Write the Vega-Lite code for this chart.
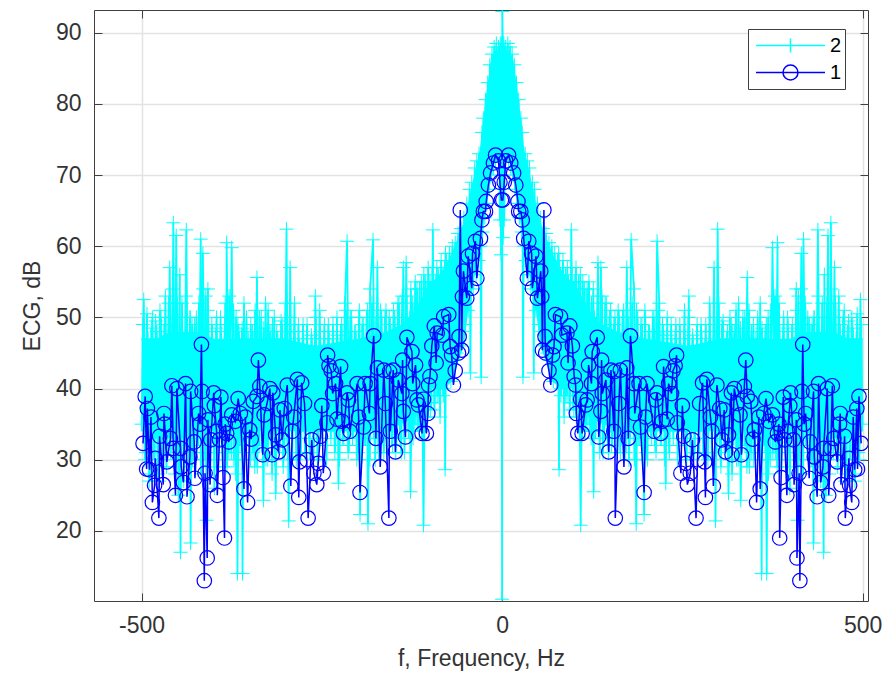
{"$schema":"https://vega.github.io/schema/vega-lite/v6.json","width":774,"height":591,"autosize":"none","padding":{"left":94,"top":10,"right":28,"bottom":72},"background":"white",
"config":{"view":{"stroke":null},"font":"Liberation Sans"},
"datasets":{"c":[
{"f":-500,"lo":34,"hi":47},{"f":-480,"lo":33,"hi":47},{"f":-460,"lo":33,"hi":48},{"f":-440,"lo":33,"hi":48},{"f":-420,"lo":34,"hi":48},{"f":-400,"lo":34,"hi":47},{"f":-340,"lo":34,"hi":47},{"f":-300,"lo":34,"hi":47},{"f":-260,"lo":34,"hi":46},{"f":-200,"lo":34,"hi":47},{"f":-160,"lo":34,"hi":48},{"f":-140,"lo":35,"hi":49},{"f":-120,"lo":36,"hi":51},{"f":-100,"lo":40,"hi":55},{"f":-90,"lo":40,"hi":55.5},{"f":-80,"lo":40,"hi":57},{"f":-70,"lo":41,"hi":59},{"f":-60,"lo":44,"hi":61.5},{"f":-53,"lo":46,"hi":63.5},{"f":-47,"lo":51,"hi":66},{"f":-43,"lo":53,"hi":68},{"f":-31,"lo":60,"hi":73.5},{"f":-23,"lo":65,"hi":80.6},{"f":-16,"lo":69,"hi":86},{"f":-10,"lo":72,"hi":87.5},{"f":-5,"lo":72,"hi":87.5},{"f":-2,"lo":66,"hi":87.5},{"f":2,"lo":66,"hi":87.5},{"f":5,"lo":72,"hi":87.5},{"f":10,"lo":72,"hi":87.5},{"f":16,"lo":69,"hi":86},{"f":23,"lo":65,"hi":80.6},{"f":31,"lo":60,"hi":73.5},{"f":43,"lo":53,"hi":68},{"f":47,"lo":51,"hi":66},{"f":53,"lo":46,"hi":63.5},{"f":60,"lo":44,"hi":61.5},{"f":70,"lo":41,"hi":59},{"f":80,"lo":40,"hi":57},{"f":90,"lo":40,"hi":55.5},{"f":100,"lo":40,"hi":55},{"f":120,"lo":36,"hi":51},{"f":140,"lo":35,"hi":49},{"f":160,"lo":34,"hi":48},{"f":200,"lo":34,"hi":47},{"f":260,"lo":34,"hi":46},{"f":300,"lo":34,"hi":47},{"f":340,"lo":34,"hi":47},{"f":400,"lo":34,"hi":47},{"f":420,"lo":34,"hi":48},{"f":440,"lo":33,"hi":48},{"f":460,"lo":33,"hi":48},{"f":480,"lo":33,"hi":47},{"f":500,"lo":34,"hi":47}
],"d":[
{"f":-498.5,"v":49},{"f":-495.5,"v":30},{"f":-492.5,"v":50.5},{"f":-489.5,"v":27},{"f":-486.5,"v":48.5},{"f":-483.5,"v":31},{"f":-480.5,"v":49.5},{"f":-477.5,"v":28},{"f":-474.5,"v":51},{"f":-471.5,"v":30},{"f":-468.5,"v":49},{"f":-465.5,"v":29},{"f":-462.5,"v":52},{"f":-459.5,"v":31},{"f":-456.5,"v":54},{"f":-453.5,"v":28},{"f":-450.5,"v":52},{"f":-447.5,"v":30},{"f":-444.5,"v":50},{"f":-441.5,"v":27},{"f":-438.5,"v":53},{"f":-435.5,"v":32},{"f":-432.5,"v":50},{"f":-429.5,"v":30},{"f":-426.5,"v":49},{"f":-423.5,"v":31},{"f":-420.5,"v":52},{"f":-417.5,"v":28},{"f":-414.5,"v":54},{"f":-411.5,"v":32},{"f":-408.5,"v":51},{"f":-405.5,"v":29},{"f":-402.5,"v":49},{"f":-399.5,"v":32},{"f":-396.5,"v":48.5},{"f":-393.5,"v":30},{"f":-390.5,"v":50},{"f":-387.5,"v":33},{"f":-384.5,"v":49},{"f":-381.5,"v":29},{"f":-378.5,"v":53},{"f":-375.5,"v":31},{"f":-372.5,"v":51},{"f":-369.5,"v":28},{"f":-366.5,"v":49},{"f":-363.5,"v":32},{"f":-360.5,"v":48.5},{"f":-357.5,"v":30},{"f":-354.5,"v":50},{"f":-351.5,"v":33},{"f":-348.5,"v":49},{"f":-345.5,"v":31},{"f":-342.5,"v":51},{"f":-339.5,"v":29},{"f":-336.5,"v":50},{"f":-333.5,"v":32},{"f":-330.5,"v":48.5},{"f":-327.5,"v":30},{"f":-324.5,"v":51},{"f":-321.5,"v":33},{"f":-318.5,"v":49},{"f":-315.5,"v":30},{"f":-312.5,"v":48},{"f":-309.5,"v":32},{"f":-306.5,"v":49.5},{"f":-303.5,"v":29},{"f":-300.5,"v":52},{"f":-297.5,"v":31},{"f":-294.5,"v":50},{"f":-291.5,"v":33},{"f":-288.5,"v":48},{"f":-285.5,"v":30},{"f":-282.5,"v":49},{"f":-279.5,"v":33},{"f":-276.5,"v":48},{"f":-273.5,"v":31},{"f":-270.5,"v":49},{"f":-267.5,"v":33},{"f":-264.5,"v":47.5},{"f":-261.5,"v":30},{"f":-258.5,"v":50},{"f":-255.5,"v":32},{"f":-252.5,"v":48},{"f":-249.5,"v":33},{"f":-246.5,"v":49},{"f":-243.5,"v":30},{"f":-240.5,"v":48},{"f":-237.5,"v":33},{"f":-234.5,"v":49},{"f":-231.5,"v":32},{"f":-228.5,"v":47.5},{"f":-225.5,"v":30},{"f":-222.5,"v":49},{"f":-219.5,"v":33},{"f":-216.5,"v":51},{"f":-213.5,"v":31},{"f":-210.5,"v":50},{"f":-207.5,"v":33},{"f":-204.5,"v":48},{"f":-201.5,"v":30},{"f":-198.5,"v":50},{"f":-195.5,"v":32},{"f":-192.5,"v":49},{"f":-189.5,"v":33},{"f":-186.5,"v":51},{"f":-183.5,"v":30},{"f":-180.5,"v":52},{"f":-177.5,"v":33},{"f":-174.5,"v":50},{"f":-171.5,"v":31},{"f":-168.5,"v":51},{"f":-165.5,"v":33},{"f":-162.5,"v":50},{"f":-159.5,"v":31},{"f":-156.5,"v":50},{"f":-153.5,"v":33},{"f":-150.5,"v":51},{"f":-147.5,"v":31},{"f":-144.5,"v":52},{"f":-141.5,"v":33},{"f":-138.5,"v":53},{"f":-135.5,"v":31},{"f":-132.5,"v":53},{"f":-129.5,"v":34},{"f":-126.5,"v":54},{"f":-123.5,"v":33},{"f":-120.5,"v":55},{"f":-117.5,"v":35},{"f":-114.5,"v":54},{"f":-111.5,"v":34},{"f":-108.5,"v":56},{"f":-105.5,"v":36},{"f":-102.5,"v":57},{"f":-99.5,"v":37},{"f":-96.5,"v":57},{"f":-93.5,"v":38},{"f":-90.5,"v":57},{"f":-87.5,"v":39},{"f":-84.5,"v":58},{"f":-81.5,"v":39},{"f":-78.5,"v":59},{"f":-75.5,"v":41},
{"f":75.5,"v":41},{"f":78.5,"v":59},{"f":81.5,"v":39},{"f":84.5,"v":58},{"f":87.5,"v":39},{"f":90.5,"v":57},{"f":93.5,"v":38},{"f":96.5,"v":57},{"f":99.5,"v":37},{"f":102.5,"v":57},{"f":105.5,"v":36},{"f":108.5,"v":56},{"f":111.5,"v":34},{"f":114.5,"v":54},{"f":117.5,"v":35},{"f":120.5,"v":55},{"f":123.5,"v":33},{"f":126.5,"v":54},{"f":129.5,"v":34},{"f":132.5,"v":53},{"f":135.5,"v":31},{"f":138.5,"v":53},{"f":141.5,"v":33},{"f":144.5,"v":52},{"f":147.5,"v":31},{"f":150.5,"v":51},{"f":153.5,"v":33},{"f":156.5,"v":50},{"f":159.5,"v":31},{"f":162.5,"v":50},{"f":165.5,"v":33},{"f":168.5,"v":51},{"f":171.5,"v":31},{"f":174.5,"v":50},{"f":177.5,"v":33},{"f":180.5,"v":52},{"f":183.5,"v":30},{"f":186.5,"v":51},{"f":189.5,"v":33},{"f":192.5,"v":49},{"f":195.5,"v":32},{"f":198.5,"v":50},{"f":201.5,"v":30},{"f":204.5,"v":48},{"f":207.5,"v":33},{"f":210.5,"v":50},{"f":213.5,"v":31},{"f":216.5,"v":51},{"f":219.5,"v":33},{"f":222.5,"v":49},{"f":225.5,"v":30},{"f":228.5,"v":47.5},{"f":231.5,"v":32},{"f":234.5,"v":49},{"f":237.5,"v":33},{"f":240.5,"v":48},{"f":243.5,"v":30},{"f":246.5,"v":49},{"f":249.5,"v":33},{"f":252.5,"v":48},{"f":255.5,"v":32},{"f":258.5,"v":50},{"f":261.5,"v":30},{"f":264.5,"v":47.5},{"f":267.5,"v":33},{"f":270.5,"v":49},{"f":273.5,"v":31},{"f":276.5,"v":48},{"f":279.5,"v":33},{"f":282.5,"v":49},{"f":285.5,"v":30},{"f":288.5,"v":48},{"f":291.5,"v":33},{"f":294.5,"v":50},{"f":297.5,"v":31},{"f":300.5,"v":52},{"f":303.5,"v":29},{"f":306.5,"v":49.5},{"f":309.5,"v":32},{"f":312.5,"v":48},{"f":315.5,"v":30},{"f":318.5,"v":49},{"f":321.5,"v":33},{"f":324.5,"v":51},{"f":327.5,"v":30},{"f":330.5,"v":48.5},{"f":333.5,"v":32},{"f":336.5,"v":50},{"f":339.5,"v":29},{"f":342.5,"v":51},{"f":345.5,"v":31},{"f":348.5,"v":49},{"f":351.5,"v":33},{"f":354.5,"v":50},{"f":357.5,"v":30},{"f":360.5,"v":48.5},{"f":363.5,"v":32},{"f":366.5,"v":49},{"f":369.5,"v":28},{"f":372.5,"v":51},{"f":375.5,"v":31},{"f":378.5,"v":53},{"f":381.5,"v":29},{"f":384.5,"v":49},{"f":387.5,"v":33},{"f":390.5,"v":50},{"f":393.5,"v":30},{"f":396.5,"v":48.5},{"f":399.5,"v":32},{"f":402.5,"v":49},{"f":405.5,"v":29},{"f":408.5,"v":51},{"f":411.5,"v":32},{"f":414.5,"v":54},{"f":417.5,"v":28},{"f":420.5,"v":52},{"f":423.5,"v":31},{"f":426.5,"v":49},{"f":429.5,"v":30},{"f":432.5,"v":50},{"f":435.5,"v":32},{"f":438.5,"v":53},{"f":441.5,"v":27},{"f":444.5,"v":50},{"f":447.5,"v":30},{"f":450.5,"v":52},{"f":453.5,"v":28},{"f":456.5,"v":54},{"f":459.5,"v":31},{"f":462.5,"v":52},{"f":465.5,"v":29},{"f":468.5,"v":49},{"f":471.5,"v":30},{"f":474.5,"v":51},{"f":477.5,"v":28},{"f":480.5,"v":49.5},{"f":483.5,"v":31},{"f":486.5,"v":48.5},{"f":489.5,"v":27},{"f":492.5,"v":50.5},{"f":495.5,"v":30},{"f":498.5,"v":49}
],"a":[
{"f":-500,"v":35},{"f":-497,"v":52.5},{"f":-494,"v":31},{"f":-491,"v":47},{"f":-488,"v":28},{"f":-485,"v":50},{"f":-482,"v":30},{"f":-479,"v":48},{"f":-476,"v":27},{"f":-473,"v":50},{"f":-470,"v":29},{"f":-467,"v":53},{"f":-464,"v":31},{"f":-461,"v":57},{"f":-458,"v":34},{"f":-456,"v":63.3},{"f":-454,"v":30},{"f":-452,"v":61.5},{"f":-449,"v":25},{"f":-447,"v":56},{"f":-446,"v":17},{"f":-444,"v":52},{"f":-441,"v":31},{"f":-438,"v":62.3},{"f":-435,"v":29},{"f":-433,"v":50},{"f":-432,"v":18.3},{"f":-430,"v":49},{"f":-427,"v":31},{"f":-424,"v":50},{"f":-421,"v":33},{"f":-418,"v":61},{"f":-417,"v":32},{"f":-415,"v":59},{"f":-412,"v":30},{"f":-411,"v":53},{"f":-410,"v":21.5},{"f":-408,"v":54},{"f":-405,"v":31},{"f":-402,"v":48},{"f":-399,"v":26},{"f":-396,"v":50},{"f":-393,"v":32},{"f":-390,"v":48},{"f":-387,"v":29},{"f":-384,"v":52},{"f":-383,"v":31},{"f":-382,"v":60.5},{"f":-379,"v":31},{"f":-375,"v":59.8},{"f":-372,"v":30},{"f":-369,"v":50},{"f":-367,"v":14},{"f":-365,"v":48},{"f":-362,"v":33},{"f":-361,"v":47},{"f":-360,"v":14},{"f":-358,"v":52},{"f":-355,"v":31},{"f":-352,"v":47},{"f":-349,"v":30},{"f":-346,"v":48},{"f":-343,"v":29},{"f":-340,"v":55.6},{"f":-337,"v":32},{"f":-334,"v":50},{"f":-331,"v":24.3},{"f":-328,"v":52},{"f":-325,"v":30},{"f":-322,"v":48},{"f":-319,"v":28},{"f":-316,"v":50},{"f":-314,"v":25.3},{"f":-311,"v":47},{"f":-308,"v":32},{"f":-305,"v":49},{"f":-302,"v":31},{"f":-299,"v":62.4},{"f":-296,"v":21.4},{"f":-294,"v":57},{"f":-291,"v":30},{"f":-288,"v":52},{"f":-285,"v":33},{"f":-282,"v":47},{"f":-279,"v":31},{"f":-276,"v":49},{"f":-273,"v":34},{"f":-270,"v":46},{"f":-267,"v":31},{"f":-264,"v":47},{"f":-261,"v":33},{"f":-259,"v":53},{"f":-256,"v":30},{"f":-253,"v":51},{"f":-250,"v":34},{"f":-247,"v":47},{"f":-244,"v":32},{"f":-241,"v":49},{"f":-238,"v":34},{"f":-235,"v":47},{"f":-232,"v":31},{"f":-229,"v":50},{"f":-227,"v":26.7},{"f":-224,"v":48},{"f":-221,"v":33},{"f":-218,"v":52},{"f":-215,"v":60.7},{"f":-212,"v":32},{"f":-209,"v":50},{"f":-206,"v":34},{"f":-203,"v":48},{"f":-200,"v":31},{"f":-198,"v":51},{"f":-197,"v":22.3},{"f":-194,"v":49},{"f":-191,"v":33},{"f":-188,"v":50},{"f":-186,"v":21},{"f":-183,"v":54},{"f":-179,"v":60.9},{"f":-176,"v":30},{"f":-173,"v":57},{"f":-170,"v":33},{"f":-167,"v":50},{"f":-164,"v":31},{"f":-161,"v":51},{"f":-158,"v":34},{"f":-155,"v":49},{"f":-152,"v":32},{"f":-149,"v":50},{"f":-146,"v":33},{"f":-143,"v":52},{"f":-140,"v":31},{"f":-137,"v":57},{"f":-135,"v":33},{"f":-133,"v":57.7},{"f":-130,"v":34},{"f":-128,"v":50},{"f":-127,"v":25.5},{"f":-124,"v":52},{"f":-121,"v":35},{"f":-118,"v":54},{"f":-115,"v":34},{"f":-112,"v":55},{"f":-109,"v":20.8},{"f":-106,"v":55},{"f":-103,"v":36},{"f":-100,"v":55},{"f":-98,"v":38},{"f":-96,"v":62.3},{"f":-94,"v":37},{"f":-92,"v":55},{"f":-90,"v":39},{"f":-88,"v":56},{"f":-86,"v":36},{"f":-84,"v":57},{"f":-82,"v":40},{"f":-80,"v":57},{"f":-79,"v":28.6},{"f":-77,"v":58},{"f":-75,"v":42},{"f":-73,"v":59},{"f":-71,"v":41},{"f":-69,"v":60},{"f":-67,"v":44},{"f":-65,"v":60.5},{"f":-63,"v":45},{"f":-61,"v":61.8},{"f":-59,"v":46},{"f":-57,"v":62.5},{"f":-55,"v":48},{"f":-53,"v":64},{"f":-51,"v":49},{"f":-49,"v":66},{"f":-47,"v":51},{"f":-45,"v":68},{"f":-44,"v":42.2},{"f":-42,"v":69},{"f":-40,"v":54},{"f":-38,"v":71},{"f":-36,"v":56},{"f":-35,"v":72},{"f":-33,"v":58},{"f":-32,"v":73},{"f":-30,"v":60},{"f":-29,"v":41.6},{"f":-28,"v":76},{"f":-27,"v":62},{"f":-26,"v":78},{"f":-24,"v":64},{"f":-23,"v":80.6},{"f":-21,"v":66},{"f":-20,"v":83},{"f":-18,"v":68},{"f":-17,"v":85.5},{"f":-15,"v":70},{"f":-14,"v":87},{"f":-12,"v":71},{"f":-11,"v":88},{"f":-9,"v":72},{"f":-8,"v":88.5},{"f":-6,"v":74},{"f":-5,"v":88},{"f":-3,"v":63.7},{"f":-2.5,"v":88.5},{"f":-1.5,"v":58.8},{"f":-1,"v":88.5},{"f":0,"v":10.4},{"f":0.3,"v":93},{"f":1,"v":88.5},{"f":1.5,"v":61.2},{"f":2.5,"v":88.5},{"f":3,"v":63.7},{"f":5,"v":88},{"f":6,"v":74},{"f":8,"v":88.5},{"f":9,"v":72},{"f":11,"v":88},{"f":12,"v":71},{"f":14,"v":87},{"f":15,"v":70},{"f":17,"v":85.5},{"f":18,"v":68},{"f":20,"v":83},{"f":21,"v":66},{"f":23,"v":80.6},{"f":24,"v":64},{"f":26,"v":78},{"f":27,"v":62},{"f":28,"v":76},{"f":29,"v":41.6},{"f":30,"v":60},{"f":32,"v":73},{"f":33,"v":58},{"f":35,"v":72},{"f":36,"v":56},{"f":38,"v":71},{"f":40,"v":54},{"f":42,"v":69},{"f":44,"v":42.2},{"f":45,"v":68},{"f":47,"v":51},{"f":49,"v":66},{"f":51,"v":49},{"f":53,"v":64},{"f":55,"v":48},{"f":57,"v":62.5},{"f":59,"v":46},{"f":61,"v":61.8},{"f":63,"v":45},{"f":65,"v":60.5},{"f":67,"v":44},{"f":69,"v":60},{"f":71,"v":41},{"f":73,"v":59},{"f":75,"v":42},{"f":77,"v":58},{"f":79,"v":28.6},{"f":80,"v":57},{"f":82,"v":40},{"f":84,"v":57},{"f":86,"v":36},{"f":88,"v":56},{"f":90,"v":39},{"f":92,"v":55},{"f":94,"v":37},{"f":96,"v":62.3},{"f":98,"v":38},{"f":100,"v":55},{"f":103,"v":36},{"f":106,"v":55},{"f":109,"v":20.8},{"f":112,"v":55},{"f":115,"v":34},{"f":118,"v":54},{"f":121,"v":35},{"f":124,"v":52},{"f":127,"v":25.5},{"f":128,"v":50},{"f":130,"v":34},{"f":133,"v":57.7},{"f":135,"v":33},{"f":137,"v":57},{"f":140,"v":31},{"f":143,"v":52},{"f":146,"v":33},{"f":149,"v":50},{"f":152,"v":32},{"f":155,"v":49},{"f":158,"v":34},{"f":161,"v":51},{"f":164,"v":31},{"f":167,"v":50},{"f":170,"v":33},{"f":173,"v":57},{"f":176,"v":30},{"f":179,"v":60.9},{"f":183,"v":54},{"f":186,"v":21},{"f":188,"v":50},{"f":191,"v":33},{"f":194,"v":49},{"f":197,"v":22.3},{"f":198,"v":51},{"f":200,"v":31},{"f":203,"v":48},{"f":206,"v":34},{"f":209,"v":50},{"f":212,"v":32},{"f":215,"v":60.7},{"f":218,"v":52},{"f":221,"v":33},{"f":224,"v":48},{"f":227,"v":26.7},{"f":229,"v":50},{"f":232,"v":31},{"f":235,"v":47},{"f":238,"v":34},{"f":241,"v":49},{"f":244,"v":32},{"f":247,"v":47},{"f":250,"v":34},{"f":253,"v":51},{"f":256,"v":30},{"f":259,"v":53},{"f":261,"v":33},{"f":264,"v":47},{"f":267,"v":31},{"f":270,"v":46},{"f":273,"v":34},{"f":276,"v":49},{"f":279,"v":31},{"f":282,"v":47},{"f":285,"v":33},{"f":288,"v":52},{"f":291,"v":30},{"f":294,"v":57},{"f":296,"v":21.4},{"f":299,"v":62.4},{"f":302,"v":31},{"f":305,"v":49},{"f":308,"v":32},{"f":311,"v":47},{"f":314,"v":25.3},{"f":316,"v":50},{"f":319,"v":28},{"f":322,"v":48},{"f":325,"v":30},{"f":328,"v":52},{"f":331,"v":24.3},{"f":334,"v":50},{"f":337,"v":32},{"f":340,"v":55.6},{"f":343,"v":29},{"f":346,"v":48},{"f":349,"v":30},{"f":352,"v":47},{"f":355,"v":31},{"f":358,"v":52},{"f":360,"v":14},{"f":361,"v":47},{"f":362,"v":33},{"f":365,"v":48},{"f":367,"v":14},{"f":369,"v":50},{"f":372,"v":30},{"f":375,"v":59.8},{"f":379,"v":31},{"f":382,"v":60.5},{"f":383,"v":31},{"f":384,"v":52},{"f":387,"v":29},{"f":390,"v":48},{"f":393,"v":32},{"f":396,"v":50},{"f":399,"v":26},{"f":402,"v":48},{"f":405,"v":31},{"f":408,"v":54},{"f":410,"v":21.5},{"f":411,"v":53},{"f":412,"v":30},{"f":415,"v":59},{"f":417,"v":32},{"f":418,"v":61},{"f":421,"v":33},{"f":424,"v":50},{"f":427,"v":31},{"f":430,"v":49},{"f":432,"v":18.3},{"f":433,"v":50},{"f":435,"v":29},{"f":438,"v":62.3},{"f":441,"v":31},{"f":444,"v":52},{"f":446,"v":17},{"f":447,"v":56},{"f":449,"v":25},{"f":452,"v":61.5},{"f":454,"v":30},{"f":456,"v":63.3},{"f":458,"v":34},{"f":461,"v":57},{"f":464,"v":31},{"f":467,"v":53},{"f":470,"v":29},{"f":473,"v":50},{"f":476,"v":27},{"f":479,"v":48},{"f":482,"v":30},{"f":485,"v":50},{"f":488,"v":28},{"f":491,"v":47},{"f":494,"v":31},{"f":497,"v":52.5},{"f":500,"v":35}
],"b":[
{"f":-498,"v":32.3},{"f":-495,"v":38.9},{"f":-493,"v":28.7},{"f":-492,"v":37.2},{"f":-489,"v":28.6},{"f":-487,"v":36},{"f":-485,"v":24},{"f":-482,"v":26.4},{"f":-481,"v":30.2},{"f":-476,"v":21.8},{"f":-475,"v":33.3},{"f":-470,"v":26.5},{"f":-469,"v":36.5},{"f":-468,"v":35},{"f":-465,"v":29.7},{"f":-460,"v":33},{"f":-458,"v":40.4},{"f":-456,"v":31.6},{"f":-453,"v":25},{"f":-451,"v":40},{"f":-446,"v":31.6},{"f":-445,"v":29},{"f":-442,"v":26.8},{"f":-439,"v":40.7},{"f":-437,"v":24.8},{"f":-433,"v":30.4},{"f":-432,"v":39.6},{"f":-427,"v":32.5},{"f":-426,"v":27.4},{"f":-421,"v":36.5},{"f":-419,"v":35},{"f":-417,"v":46.2},{"f":-416,"v":39.6},{"f":-413,"v":13},{"f":-412,"v":28.1},{"f":-409,"v":16.2},{"f":-408,"v":35.6},{"f":-405,"v":26.5},{"f":-404,"v":32.8},{"f":-400,"v":39.4},{"f":-399,"v":37.6},{"f":-396,"v":34},{"f":-395,"v":25},{"f":-392,"v":32.8},{"f":-390,"v":38.8},{"f":-387,"v":27.5},{"f":-385,"v":19},{"f":-384,"v":35},{"f":-382,"v":33.7},{"f":-379,"v":32.5},{"f":-375,"v":36.3},{"f":-370,"v":35.4},{"f":-366,"v":38.6},{"f":-363,"v":36.5},{"f":-358,"v":25.9},{"f":-356,"v":36},{"f":-353,"v":24},{"f":-350,"v":34.2},{"f":-348,"v":32.9},{"f":-345,"v":38.2},{"f":-340,"v":38.9},{"f":-338,"v":44},{"f":-336,"v":40.3},{"f":-332,"v":30.7},{"f":-330,"v":36.3},{"f":-326,"v":37.9},{"f":-322,"v":40},{"f":-319,"v":30.7},{"f":-318,"v":39.4},{"f":-314,"v":33.5},{"f":-310,"v":31.1},{"f":-308,"v":37},{"f":-305,"v":32.8},{"f":-302,"v":37.2},{"f":-298,"v":40.5},{"f":-293,"v":26.3},{"f":-291,"v":34},{"f":-289,"v":36},{"f":-284,"v":41.3},{"f":-282,"v":24.7},{"f":-281,"v":29.7},{"f":-278,"v":40.8},{"f":-274,"v":37.9},{"f":-271,"v":30},{"f":-269,"v":21.8},{"f":-264,"v":32.8},{"f":-261,"v":28.1},{"f":-257,"v":26.5},{"f":-255,"v":29.5},{"f":-252,"v":33.3},{"f":-250,"v":37.6},{"f":-248,"v":28.1},{"f":-243,"v":35.2},{"f":-242,"v":44.7},{"f":-240,"v":43.2},{"f":-237,"v":42.5},{"f":-235,"v":39.3},{"f":-231,"v":40.7},{"f":-229,"v":35.7},{"f":-224,"v":43.1},{"f":-222,"v":35.4},{"f":-220,"v":33.7},{"f":-215,"v":39.4},{"f":-213,"v":38.4},{"f":-211,"v":34},{"f":-201,"v":40.7},{"f":-199,"v":36},{"f":-197,"v":25.4},{"f":-192,"v":34.6},{"f":-190,"v":40.7},{"f":-184,"v":36.5},{"f":-183,"v":40.7},{"f":-178,"v":47.4},{"f":-175,"v":33},{"f":-173,"v":42.9},{"f":-169,"v":29},{"f":-164,"v":42.6},{"f":-162,"v":37.9},{"f":-157,"v":21.8},{"f":-156,"v":42.4},{"f":-155,"v":34},{"f":-151,"v":42.6},{"f":-148,"v":31.1},{"f":-144,"v":41.2},{"f":-139,"v":39.3},{"f":-138,"v":44},{"f":-137,"v":36.8},{"f":-134,"v":33.2},{"f":-132,"v":47.2},{"f":-125,"v":45.2},{"f":-124,"v":40.7},{"f":-120,"v":43.3},{"f":-118,"v":38.4},{"f":-116,"v":37.7},{"f":-111,"v":33.7},{"f":-109,"v":38.5},{"f":-105,"v":33.7},{"f":-103,"v":36.5},{"f":-102,"v":40.5},{"f":-100,"v":41.7},{"f":-97.5,"v":46},{"f":-94,"v":48.8},{"f":-91.5,"v":43.6},{"f":-90,"v":47.8},{"f":-83,"v":47.5},{"f":-81,"v":50.1},{"f":-74,"v":50.4},{"f":-72,"v":45.9},{"f":-70,"v":44.7},{"f":-67.5,"v":40.5},{"f":-65,"v":42.5},{"f":-60.5,"v":45},{"f":-59.6,"v":47.3},{"f":-58,"v":65.1},{"f":-56,"v":45.4},{"f":-55,"v":52.9},{"f":-53.6,"v":56.5},{"f":-49,"v":52.7},{"f":-47,"v":58.6},{"f":-42,"v":54.1},{"f":-41,"v":59},{"f":-37,"v":60.7},{"f":-35,"v":55.5},{"f":-30,"v":61.1},{"f":-28,"v":63.7},{"f":-26,"v":64.9},{"f":-23,"v":64.9},{"f":-22,"v":66.3},{"f":-19,"v":68.6},{"f":-16,"v":70.3},{"f":-12,"v":71.7},{"f":-9,"v":72.8},{"f":-5,"v":72},{"f":-3,"v":69},{"f":-1,"v":66.5},{"f":1,"v":66.5},{"f":3,"v":69},{"f":5,"v":72},{"f":9,"v":72.8},{"f":12,"v":71.7},{"f":16,"v":70.3},{"f":19,"v":68.6},{"f":22,"v":66.3},{"f":23,"v":64.9},{"f":26,"v":64.9},{"f":28,"v":63.7},{"f":30,"v":61.1},{"f":35,"v":55.5},{"f":37,"v":60.7},{"f":41,"v":59},{"f":42,"v":54.1},{"f":47,"v":58.6},{"f":49,"v":52.7},{"f":53.6,"v":56.5},{"f":55,"v":52.9},{"f":56,"v":45.4},{"f":58,"v":65.1},{"f":59.6,"v":47.3},{"f":60.5,"v":45},{"f":65,"v":42.5},{"f":67.5,"v":40.5},{"f":70,"v":44.7},{"f":72,"v":45.9},{"f":74,"v":50.4},{"f":81,"v":50.1},{"f":83,"v":47.5},{"f":90,"v":47.8},{"f":91.5,"v":43.6},{"f":94,"v":48.8},{"f":97.5,"v":46},{"f":100,"v":41.7},{"f":102,"v":40.5},{"f":103,"v":36.5},{"f":105,"v":33.7},{"f":109,"v":38.5},{"f":111,"v":33.7},{"f":116,"v":37.7},{"f":118,"v":38.4},{"f":120,"v":43.3},{"f":124,"v":40.7},{"f":125,"v":45.2},{"f":132,"v":47.2},{"f":134,"v":33.2},{"f":137,"v":36.8},{"f":138,"v":44},{"f":139,"v":39.3},{"f":144,"v":41.2},{"f":148,"v":31.1},{"f":151,"v":42.6},{"f":155,"v":34},{"f":156,"v":42.4},{"f":157,"v":21.8},{"f":162,"v":37.9},{"f":164,"v":42.6},{"f":169,"v":29},{"f":173,"v":42.9},{"f":175,"v":33},{"f":178,"v":47.4},{"f":183,"v":40.7},{"f":184,"v":36.5},{"f":190,"v":40.7},{"f":192,"v":34.6},{"f":197,"v":25.4},{"f":199,"v":36},{"f":201,"v":40.7},{"f":211,"v":34},{"f":213,"v":38.4},{"f":215,"v":39.4},{"f":220,"v":33.7},{"f":222,"v":35.4},{"f":224,"v":43.1},{"f":229,"v":35.7},{"f":231,"v":40.7},{"f":235,"v":39.3},{"f":237,"v":42.5},{"f":240,"v":43.2},{"f":242,"v":44.7},{"f":243,"v":35.2},{"f":248,"v":28.1},{"f":250,"v":37.6},{"f":252,"v":33.3},{"f":255,"v":29.5},{"f":257,"v":26.5},{"f":261,"v":28.1},{"f":264,"v":32.8},{"f":269,"v":21.8},{"f":271,"v":30},{"f":274,"v":37.9},{"f":278,"v":40.8},{"f":281,"v":29.7},{"f":282,"v":24.7},{"f":284,"v":41.3},{"f":289,"v":36},{"f":291,"v":34},{"f":293,"v":26.3},{"f":298,"v":40.5},{"f":302,"v":37.2},{"f":305,"v":32.8},{"f":308,"v":37},{"f":310,"v":31.1},{"f":314,"v":33.5},{"f":318,"v":39.4},{"f":319,"v":30.7},{"f":322,"v":40},{"f":326,"v":37.9},{"f":330,"v":36.3},{"f":332,"v":30.7},{"f":336,"v":40.3},{"f":338,"v":44},{"f":340,"v":38.9},{"f":345,"v":38.2},{"f":348,"v":32.9},{"f":350,"v":34.2},{"f":353,"v":24},{"f":356,"v":36},{"f":358,"v":25.9},{"f":363,"v":36.5},{"f":366,"v":38.6},{"f":370,"v":35.4},{"f":375,"v":36.3},{"f":379,"v":32.5},{"f":382,"v":33.7},{"f":384,"v":35},{"f":385,"v":19},{"f":387,"v":27.5},{"f":390,"v":38.8},{"f":392,"v":32.8},{"f":395,"v":25},{"f":396,"v":34},{"f":399,"v":37.6},{"f":400,"v":39.4},{"f":404,"v":32.8},{"f":405,"v":26.5},{"f":408,"v":35.6},{"f":409,"v":16.2},{"f":412,"v":28.1},{"f":413,"v":13},{"f":416,"v":39.6},{"f":417,"v":46.2},{"f":419,"v":35},{"f":421,"v":36.5},{"f":426,"v":27.4},{"f":427,"v":32.5},{"f":432,"v":39.6},{"f":433,"v":30.4},{"f":437,"v":24.8},{"f":439,"v":40.7},{"f":442,"v":26.8},{"f":445,"v":29},{"f":446,"v":31.6},{"f":451,"v":40},{"f":453,"v":25},{"f":456,"v":31.6},{"f":458,"v":40.4},{"f":460,"v":33},{"f":465,"v":29.7},{"f":468,"v":35},{"f":469,"v":36.5},{"f":470,"v":26.5},{"f":475,"v":33.3},{"f":476,"v":21.8},{"f":481,"v":30.2},{"f":482,"v":26.4},{"f":485,"v":24},{"f":487,"v":36},{"f":489,"v":28.6},{"f":492,"v":37.2},{"f":493,"v":28.7},{"f":495,"v":38.9},{"f":498,"v":32.3}
]},
"resolve":{"axis":{"x":"independent","y":"independent"}},
"layer":[
{"encoding":{
"x":{"field":"f","type":"quantitative","scale":{"domain":[-566,507.5],"nice":false,"zero":false},"axis":{"values":[-500,0,500],"labelExpr":"''+datum.value","title":"f, Frequency, Hz","titleFontSize":23,"titleFontWeight":"normal","titleColor":"#333333","titlePadding":10,"labelFontSize":23,"labelColor":"#333333","labelPadding":21,"tickSize":-8,"tickColor":"#404040","domainColor":"#404040","grid":true,"gridColor":"#e2e2e2","gridWidth":1.5,"labelFlush":false}},
"y":{"field":"v","type":"quantitative","scale":{"domain":[10.15,93.2],"nice":false,"zero":false},"axis":{"values":[20,30,40,50,60,70,80,90],"title":"ECG, dB","titleFontSize":23,"titleFontWeight":"normal","titleColor":"#333333","titlePadding":11,"labelFontSize":23,"labelColor":"#333333","labelPadding":21,"tickSize":-8,"tickColor":"#404040","domainColor":"#404040","grid":true,"gridColor":"#e2e2e2","gridWidth":1.5}}
},
"layer":[
{"data":{"name":"c"},"mark":{"type":"area","color":"#00ffff","opacity":1,"clip":true},"encoding":{"y":{"field":"lo","type":"quantitative"},"y2":{"field":"hi"}}},
{"data":{"name":"d"},"mark":{"type":"line","strokeWidth":1.8,"color":"#00ffff","clip":true},"transform":[{"filter":"datum.f<0"}]},
{"data":{"name":"d"},"mark":{"type":"line","strokeWidth":1.8,"color":"#00ffff","clip":true},"transform":[{"filter":"datum.f>0"}]},
{"data":{"name":"d"},"mark":{"type":"point","shape":"M-1,0H1M0,-1V1","size":196,"strokeWidth":1,"color":"#00ffff","filled":false,"opacity":1,"clip":true}},
{"data":{"name":"a"},"mark":{"type":"line","strokeWidth":1.8,"clip":true,"interpolate":"linear"},"encoding":{"color":{"datum":"2","type":"nominal","scale":{"domain":["2","1"],"range":["#00ffff","#0000ff"]},"legend":{"title":null,"orient":"none","legendX":654,"legendY":19,"fillColor":"white","strokeColor":"#404040","padding":3,"symbolOffset":4,"labelFontSize":20,"labelColor":"black","symbolSize":4761,"symbolStrokeWidth":1.5,"symbolOpacity":1,"clipHeight":27,"rowPadding":0,"labelOffset":4,"labelExpr":"datum.label+' '","encode":{"symbols":{"update":{"shape":{"signal":"datum.value==='2'?'M-1,0H1M0,-0.2V0.2':'M-1,0H1M0.217,0A0.217,0.217,0,1,1,-0.217,0A0.217,0.217,0,1,1,0.217,0Z'"},"fill":{"value":"transparent"}}}}}}}},
{"data":{"name":"a"},"mark":{"type":"point","shape":"M-1,0H1M0,-1V1","size":196,"strokeWidth":1,"color":"#00ffff","filled":false,"opacity":1,"clip":true}},
{"data":{"name":"b"},"mark":{"type":"line","strokeWidth":1.5,"clip":true},"encoding":{"color":{"datum":"1","type":"nominal"}}},
{"data":{"name":"b"},"mark":{"type":"point","shape":"circle","size":210,"strokeWidth":1.2,"color":"#0000ff","filled":false,"opacity":1,"clip":true}}
]},
{"data":{"values":[{"f":0,"v":50}]},"mark":{"type":"point","opacity":0},"encoding":{"x":{"field":"f","type":"quantitative","scale":{"domain":[-566,507.5],"nice":false,"zero":false},"axis":{"orient":"top","values":[-500,0,500],"labels":false,"title":null,"grid":false,"tickSize":-8,"tickColor":"#404040","domainColor":"#404040"}},"y":{"field":"v","type":"quantitative","scale":{"domain":[10.15,93.2],"nice":false,"zero":false},"axis":{"orient":"right","values":[20,30,40,50,60,70,80,90],"labels":false,"title":null,"grid":false,"tickSize":-8,"tickColor":"#404040","domainColor":"#404040"}}}}
]}
